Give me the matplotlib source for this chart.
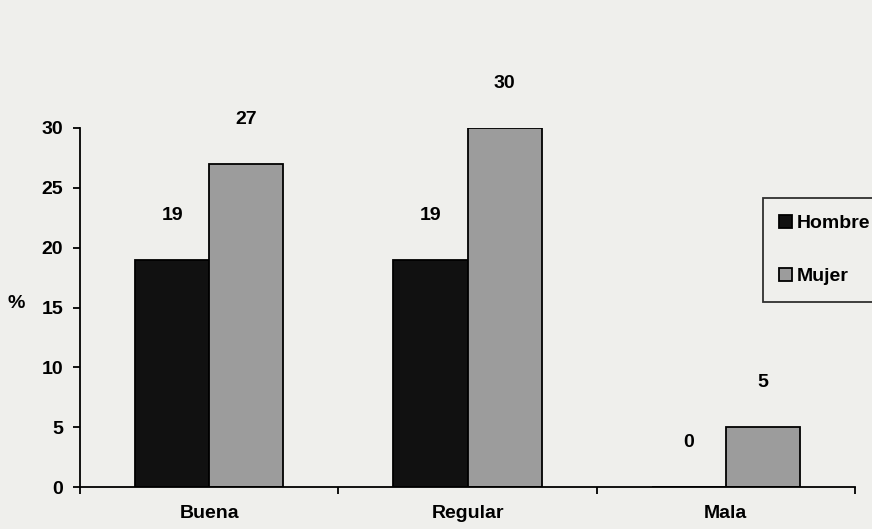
import numpy as np
import matplotlib
matplotlib.use("Agg")
import matplotlib.pyplot as plt

# ------------ Datos ------------
categorias = ["Buena", "Regular", "Mala"]
hombre = [19, 19, 0]
mujer = [27, 30, 5]
series = ["Hombre", "Mujer"]
yticks = [0, 5, 10, 15, 20, 25, 30]

plt.rcParams["font.family"] = ["Liberation Sans", "DejaVu Sans"]
plt.rcParams["font.weight"] = "bold"
FS = 14

bg = "#efefec"
fig = plt.figure(figsize=(8.72, 5.29), dpi=100, facecolor=bg)
ax = fig.add_axes([80/872, 1-487/529, 775/872, 359/529])
ax.set_facecolor(bg)

x = np.arange(len(categorias)) + 0.5
w = 0.287
b1 = ax.bar(x - w/2, hombre, w, color="#111111", edgecolor="black", lw=1.3, label=series[0])
b2 = ax.bar(x + w/2, mujer, w, color="#9c9c9c", edgecolor="black", lw=1.3, label=series[1])

# etiquetas de valores
for bars, vals in ((b1, hombre), (b2, mujer)):
    for r, v in zip(bars, vals):
        ax.annotate(str(v), (r.get_x() + r.get_width()/2, v), xytext=(0, 32),
                    textcoords="offset points", ha="center", va="center",
                    fontsize=FS, fontweight="bold", annotation_clip=False)

ax.set_xlim(0, 3)
ax.set_ylim(0, 30)
ax.set_yticks(yticks)
ax.set_xticks([0, 1, 2, 3])
ax.set_xticklabels([])
ax.set_xticks(x, minor=True)
ax.set_xticklabels(categorias, minor=True)
ax.tick_params(axis="x", which="minor", length=0, pad=13, labelsize=FS)
ax.tick_params(axis="x", which="major", direction="out", length=5, width=1.3)
ax.tick_params(axis="y", direction="out", length=5, width=1.3, pad=7, labelsize=FS)
for t in ax.get_yticklabels() + ax.get_xticklabels(minor=True):
    t.set_fontweight("bold")

for s in ("top", "right"):
    ax.spines[s].set_visible(False)
for s in ("left", "bottom"):
    ax.spines[s].set_linewidth(1.3)

ax.set_ylabel("%", rotation=0, fontsize=FS, fontweight="bold", va="center", ha="center")
ax.yaxis.set_label_coords(-0.082, 0.51)

leg = ax.legend(loc="upper left", bbox_to_anchor=(0.881, 0.805), borderaxespad=0,
                frameon=True, fancybox=False, edgecolor="black", facecolor=bg,
                handlelength=0.65, handleheight=0.65, handletextpad=0.25,
                labelspacing=1.85, borderpad=0.85, prop={"size": FS, "weight": "bold"})
leg.get_frame().set_linewidth(1.3)
leg.set_clip_on(False)

fig.savefig("out.png", dpi=100, facecolor=bg)
